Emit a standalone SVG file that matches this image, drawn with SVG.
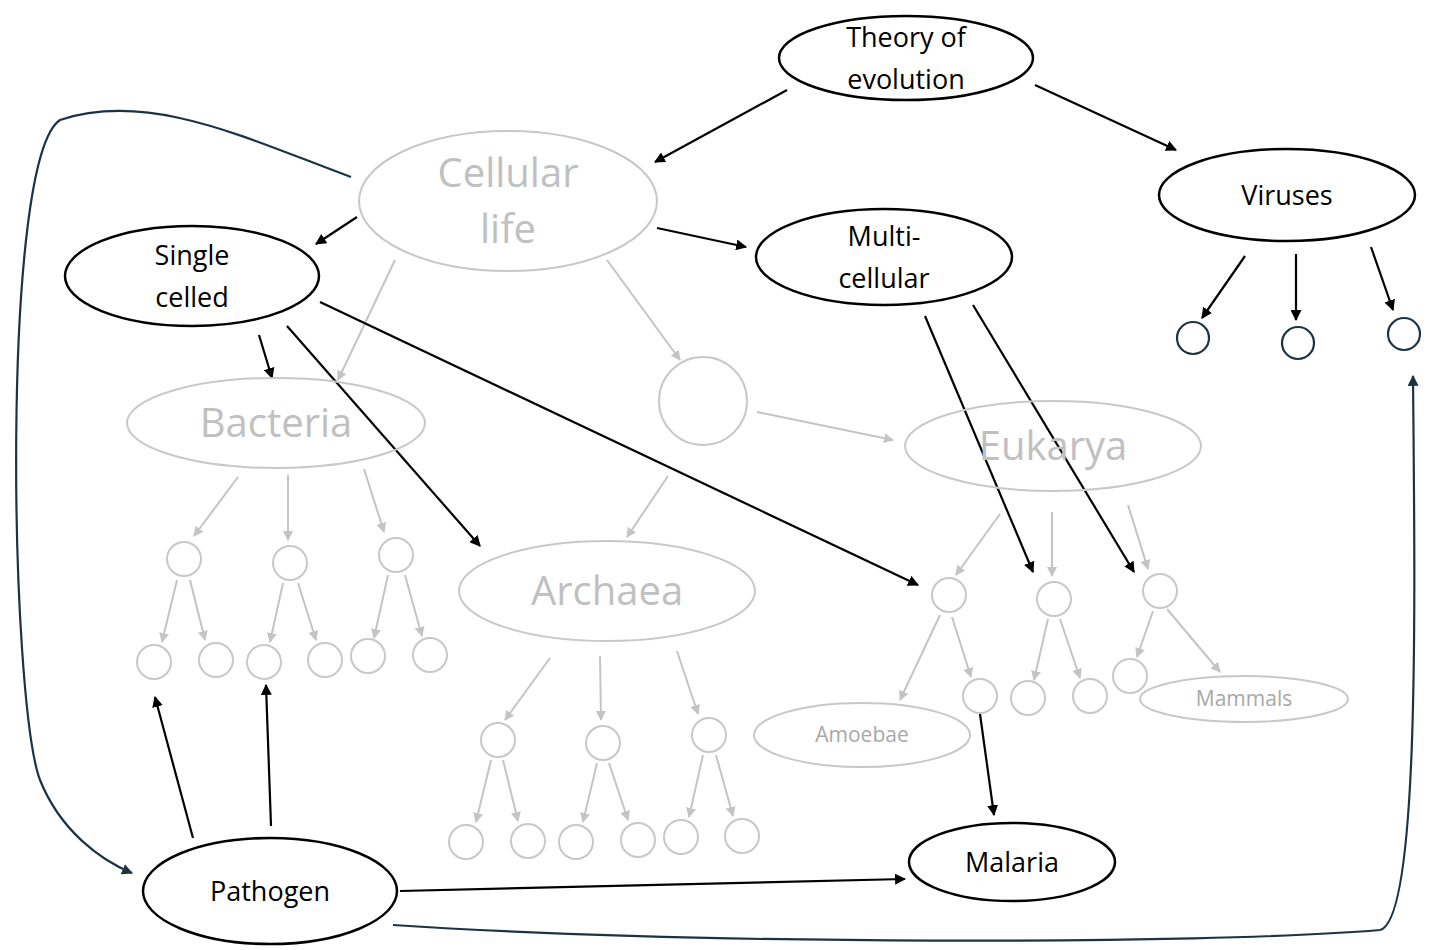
<svg xmlns="http://www.w3.org/2000/svg" width="1434" height="950" viewBox="0 0 1434 950">
<style>
.k{fill:#fff;stroke:#000;stroke-width:2.5}
.g{fill:none;stroke:#c8c8c8;stroke-width:2}
.v{fill:#fff;stroke:#1c3344;stroke-width:2.2}
.tk{font-family:"Open Sans","Liberation Sans",sans-serif;font-size:27px;fill:#000;text-anchor:middle}
.tg{font-family:"Open Sans","Liberation Sans",sans-serif;font-size:40px;fill:#c0c0c0;text-anchor:middle}
.ts{font-family:"Open Sans","Liberation Sans",sans-serif;font-size:21px;fill:#a8a8a8;text-anchor:middle}
.ab{stroke:#000;stroke-width:2.2;fill:none;marker-end:url(#mb)}
.ag{stroke:#c4c4c4;stroke-width:2;fill:none;marker-end:url(#mg)}
.an{stroke:#1c3344;stroke-width:2.2;fill:none;marker-end:url(#mn)}
</style>
<defs>
<marker id="mb" viewBox="0 0 10 10" refX="9" refY="5" markerWidth="5" markerHeight="5" orient="auto"><path d="M0,0L10,5L0,10z" fill="#000"/></marker>
<marker id="mg" viewBox="0 0 10 10" refX="9" refY="5" markerWidth="5" markerHeight="5" orient="auto"><path d="M0,0L10,5L0,10z" fill="#c4c4c4"/></marker>
<marker id="mn" viewBox="0 0 10 10" refX="9" refY="5" markerWidth="5" markerHeight="5" orient="auto"><path d="M0,0L10,5L0,10z" fill="#1c3344"/></marker>
</defs>
<g id="connectors">
<path class="an" d="M351,177 C250,140 150,90 60,120 C0,160 10,700 40,780 C60,830 100,860 132,873"/>
<path class="an" d="M393,925 C700,945 1200,945 1380,930 C1420,920 1415,600 1413,376"/>
<path class="ag" d="M395,260L338,380"/><path class="ag" d="M607,260L680,360"/>
<path class="ag" d="M668,476L627,537"/><path class="ag" d="M757,412L893,440"/>
<path class="ag" d="M238,477L194,536"/><path class="ag" d="M288,475L288,540"/><path class="ag" d="M364,469L384,532"/>
<path class="ag" d="M177,580L162,642"/><path class="ag" d="M190,580L205,640"/><path class="ag" d="M283,583L270,642"/><path class="ag" d="M298,583L316,640"/><path class="ag" d="M388,575L374,638"/><path class="ag" d="M405,575L422,636"/>
<path class="ag" d="M550,658L505,720"/><path class="ag" d="M600,656L601,720"/><path class="ag" d="M677,651L698,714"/>
<path class="ag" d="M491,760L476,822"/><path class="ag" d="M503,760L518,821"/><path class="ag" d="M597,763L583,822"/><path class="ag" d="M609,763L628,820"/><path class="ag" d="M703,755L689,817"/><path class="ag" d="M716,755L733,816"/>
<path class="ag" d="M1000,514L956,575"/><path class="ag" d="M1052,512L1052,576"/><path class="ag" d="M1128,505L1148,569"/>
<path class="ag" d="M940,615L900,700"/><path class="ag" d="M952,617L971,677"/><path class="ag" d="M1048,619L1034,680"/><path class="ag" d="M1060,619L1080,678"/><path class="ag" d="M1153,611L1137,657"/><path class="ag" d="M1167,609L1220,672"/>
<path class="ab" d="M787,90L655,162"/><path class="ab" d="M1035,85L1176,150"/>
<path class="ab" d="M357,217L316,244"/><path class="ab" d="M657,228L746,247"/>
<path class="ab" d="M259,335L272,378"/><path class="ab" d="M287,326L480,546"/><path class="ab" d="M320,302L918,585"/>
<path class="ab" d="M925,316L1033,572"/><path class="ab" d="M973,305L1134,572"/>
<path class="ab" d="M1245,256L1202,318"/><path class="ab" d="M1296,254L1296,320"/><path class="ab" d="M1371,247L1393,310"/>
<path class="ab" d="M980,714L994,815"/>
<path class="ab" d="M193,838L155,697"/><path class="ab" d="M271,826L266,685"/><path class="ab" d="M400,891L905,879"/>
</g>
<g id="cellular"><ellipse class="g" cx="508" cy="201" rx="149" ry="70"/><text class="tg" x="508" y="187">Cellular</text><text class="tg" x="508" y="243">life</text></g>
<g id="theory"><ellipse class="k" cx="906" cy="58" rx="127" ry="42"/><text class="tk" x="906" y="47">Theory of</text><text class="tk" x="906" y="89">evolution</text></g>
<g id="viruses"><ellipse class="k" cx="1287" cy="195" rx="128" ry="46"/><text class="tk" x="1287" y="205">Viruses</text></g>
<g id="single"><ellipse class="k" cx="192" cy="276" rx="127" ry="50"/><text class="tk" x="192" y="265">Single</text><text class="tk" x="192" y="307">celled</text></g>
<g id="multi"><ellipse class="k" cx="884" cy="257" rx="128" ry="48"/><text class="tk" x="884" y="246">Multi-</text><text class="tk" x="884" y="288">cellular</text></g>
<g id="bacteria"><ellipse class="g" cx="276" cy="423" rx="149" ry="45"/><text class="tg" x="276" y="437">Bacteria</text></g>
<g id="mid"><circle class="g" cx="703" cy="401" r="44"/></g>
<g id="eukarya"><ellipse class="g" cx="1053" cy="446" rx="148" ry="45"/><text class="tg" x="1053" y="460">Eukarya</text></g>
<g id="archaea"><ellipse class="g" cx="607" cy="591" rx="148" ry="50"/><text class="tg" x="607" y="605">Archaea</text></g>
<g id="amoebae"><ellipse class="g" cx="862" cy="735" rx="108" ry="32"/><text class="ts" x="862" y="742">Amoebae</text></g>
<g id="mammals"><ellipse class="g" cx="1244" cy="699" rx="104" ry="23"/><text class="ts" x="1244" y="706">Mammals</text></g>
<g id="smallnodes">
<circle class="g" cx="184" cy="559" r="17"/><circle class="g" cx="290" cy="563" r="17"/><circle class="g" cx="396" cy="555" r="17"/>
<circle class="g" cx="154" cy="662" r="17"/><circle class="g" cx="216" cy="660" r="17"/><circle class="g" cx="264" cy="662" r="17"/><circle class="g" cx="325" cy="660" r="17"/><circle class="g" cx="368" cy="656" r="17"/><circle class="g" cx="430" cy="655" r="17"/>
<circle class="g" cx="498" cy="740" r="17"/><circle class="g" cx="603" cy="743" r="17"/><circle class="g" cx="709" cy="735" r="17"/>
<circle class="g" cx="466" cy="842" r="17"/><circle class="g" cx="528" cy="841" r="17"/><circle class="g" cx="576" cy="842" r="17"/><circle class="g" cx="638" cy="840" r="17"/><circle class="g" cx="681" cy="837" r="17"/><circle class="g" cx="742" cy="836" r="17"/>
<circle class="g" cx="949" cy="595" r="17"/><circle class="g" cx="1054" cy="599" r="17"/><circle class="g" cx="1160" cy="591" r="17"/>
<circle class="g" cx="980" cy="696" r="17"/><circle class="g" cx="1028" cy="698" r="17"/><circle class="g" cx="1090" cy="696" r="17"/><circle class="g" cx="1130" cy="676" r="17"/>
<circle class="v" cx="1193" cy="338" r="16"/><circle class="v" cx="1298" cy="343" r="16"/><circle class="v" cx="1404" cy="334" r="16"/>
</g>
<g id="pathogen"><ellipse class="k" cx="270" cy="891" rx="127" ry="53"/><text class="tk" x="270" y="901">Pathogen</text></g>
<g id="malaria"><ellipse class="k" cx="1012" cy="862" rx="103" ry="39"/><text class="tk" x="1012" y="872">Malaria</text></g>
</svg>
